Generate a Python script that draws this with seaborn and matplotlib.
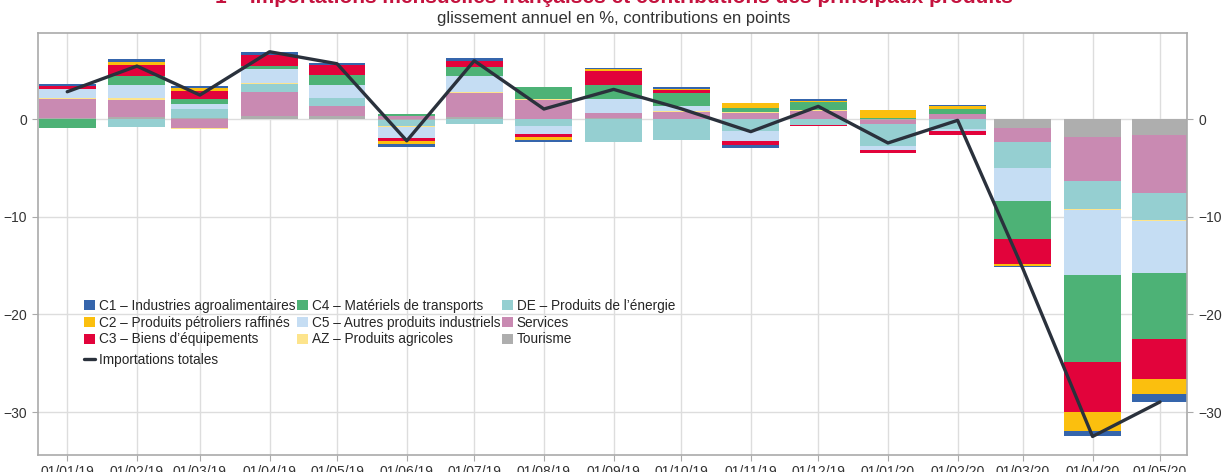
import pandas as pd
import matplotlib.pyplot as plt
import matplotlib.dates as mdates
from matplotlib.patches import Patch
from matplotlib.lines import Line2D
import seaborn as sns

# Monthly data (glissement annuel en %, contributions en points)
months = pd.date_range('2019-01-01', periods=17, freq='MS')

c1 = [0.14, 0.31, 0.14, 0.31, 0.20, -0.31, 0.31, -0.20, 0.17, 0.20, -0.31, 0.17, -0.07, 0.14, -0.20, -0.58, -0.85]
c2 = [0.07, 0.31, 0.38, 0.00, 0.00, -0.31, 0.00, -0.31, 0.14, 0.10, 0.51, 0.14, 0.79, 0.27, -0.17, -1.88, -1.50]
c3 = [0.31, 1.13, 0.82, 1.09, 0.96, -0.31, 0.61, -0.27, 1.43, 0.24, -0.41, -0.10, -0.27, -0.38, -2.56, -5.22, -4.10]
c4 = [-0.89, 0.92, 0.51, 0.34, 1.02, 0.20, 0.99, 1.23, 1.43, 1.40, 0.41, 0.82, 0.10, 0.51, -3.89, -8.88, -6.77]
c5 = [0.89, 1.33, 0.51, 1.43, 1.33, -1.13, 1.64, -0.82, 1.43, 0.51, -1.02, 0.00, -0.41, -0.24, -3.38, -6.69, -5.36]
az = [0.10, 0.20, -0.14, 0.10, 0.05, -0.10, 0.10, 0.10, 0.03, 0.03, 0.10, 0.03, 0.03, 0.03, 0.05, -0.10, -0.10]
de = [0.00, -0.79, 0.92, 0.82, 0.82, -0.58, -0.44, -0.68, -2.29, -2.12, -1.20, -0.55, -2.25, -0.96, -2.70, -2.87, -2.73]
services = [1.91, 1.74, -0.85, 2.46, 1.02, 0.34, 2.46, 1.98, 0.48, 0.75, 0.65, 0.85, -0.41, 0.55, -1.43, -4.47, -5.94]
tourisme = [0.17, 0.24, 0.12, 0.34, 0.34, -0.07, 0.20, 0.05, 0.17, 0.05, 0.03, 0.03, -0.07, 0.00, -0.85, -1.81, -1.60]
total = [2.83, 5.46, 2.49, 6.93, 5.70, -2.20, 6.01, 1.06, 3.07, 1.09, -1.26, 1.33, -2.42, -0.10, -15.30, -32.50, -28.96]

labels = ['C1 – Industries agroalimentaires', 'C2 – Produits pétroliers raffinés',
          'C3 – Biens d\u2019équipements', 'C4 – Matériels de transports',
          'C5 – Autres produits industriels', 'AZ – Produits agricoles',
          'DE – Produits de l\u2019énergie', 'Services', 'Tourisme']
colors = ['#3565AC', '#FBBF0E', '#E2033B', '#4DB276', '#C5DDF3',
          '#FDE48C', '#95CFD1', '#C98AB2', '#AEAEAE']
series = [c1, c2, c3, c4, c5, az, de, services, tourisme]

sns.set_style('white')
plt.rcParams['font.family'] = ['Liberation Sans', 'DejaVu Sans']

fig = plt.figure(figsize=(12.27, 4.72), dpi=100)
ax = fig.add_axes([38 / 1227, 1 - 455 / 472, (1187 - 38) / 1227, (455 - 33) / 472])

# Stacked bars: from zero outward Tourisme, Services, DE, AZ, C5, C4, C3, C2, C1
pos = [0.0] * len(months)
neg = [0.0] * len(months)
for vals, col in zip(series[::-1], colors[::-1]):
    bottoms = [pos[i] if v >= 0 else neg[i] for i, v in enumerate(vals)]
    ax.bar(months, vals, bottom=bottoms, width=25.3, color=col, linewidth=0, zorder=2)
    for i, v in enumerate(vals):
        if v >= 0:
            pos[i] += v
        else:
            neg[i] += v

df_total = pd.DataFrame({'date': months, 'total': total})
sns.lineplot(data=df_total, x='date', y='total', color='#2A313C', linewidth=2.4, ax=ax, zorder=3)

ax.set_xlim(pd.Timestamp('2018-12-19'), pd.Timestamp('2020-05-13'))
ax.set_ylim(-34.4, 8.85)
ax.set_yticks([-30, -20, -10, 0])
ax.set_yticklabels(['\u221230', '\u221220', '\u221210', '0'])
ax.set_xticks(months)
ax.xaxis.set_major_formatter(mdates.DateFormatter('%d/%m/%y'))
ax.set_xlabel('')
ax.set_ylabel('')
ax.grid(True, color='#DDDDDD', linewidth=1, zorder=0)
ax.set_axisbelow(True)
for s in ax.spines.values():
    s.set_color('#AAAAAA')
    s.set_linewidth(1.2)
ax.tick_params(axis='y', left=True, right=True, labelright=True, length=4,
               color='#AAAAAA', labelsize=10, labelcolor='#333333', pad=4)
ax.tick_params(axis='x', bottom=True, length=4, color='#AAAAAA', labelsize=10,
               labelcolor='#333333', pad=3)

# Legends
handles = [Patch(facecolor=c, edgecolor='none') for c in colors]
leg = ax.legend(handles, labels, ncol=3, loc='upper left', frameon=False,
                bbox_to_anchor=(84 / 1227, 1 - 299 / 472), bbox_transform=fig.transFigure,
                fontsize=9.8, handlelength=0.8, handleheight=0.8, handletextpad=0.3,
                columnspacing=0.1, labelspacing=0.2, borderpad=0, borderaxespad=0)
ax.add_artist(leg)
ax.legend([Line2D([0], [0], color='#2A313C', linewidth=2.4)], ['Importations totales'],
          loc='upper left', frameon=False,
          bbox_to_anchor=(84 / 1227, 1 - 353 / 472), bbox_transform=fig.transFigure,
          fontsize=9.8, handlelength=0.8, handletextpad=0.3, borderpad=0, borderaxespad=0)

fig.text(0.5, 1 - 3 / 472,
         '1 – Importations mensuelles françaises et contributions des principaux produits',
         ha='center', va='baseline', fontsize=15, fontweight='bold', color='#C4123E')
fig.text(0.5, 1 - 18 / 472, 'glissement annuel en %, contributions en points',
         ha='center', va='center', fontsize=12, color='#333333')

fig.savefig('out.png', dpi=100)
